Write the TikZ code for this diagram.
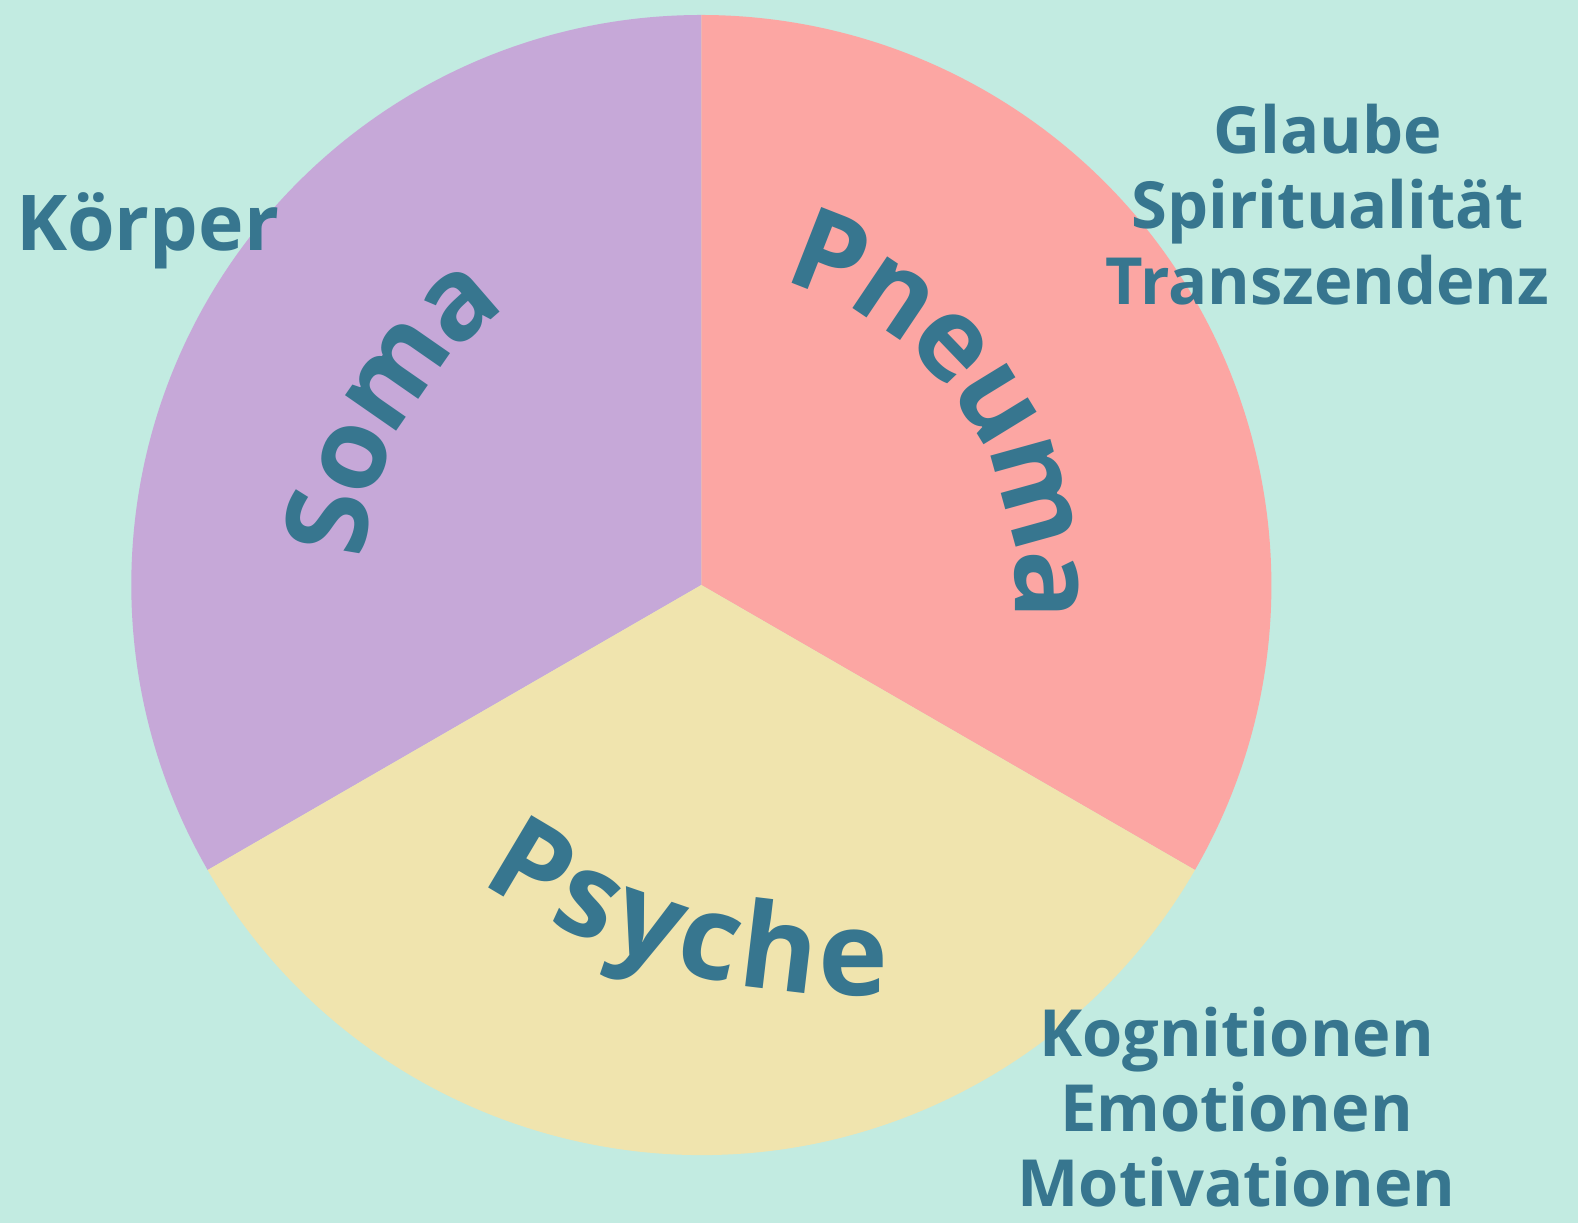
\documentclass[tikz,border=0pt]{standalone}
\usepackage{fontspec}
\setmainfont{Open Sans}
\usetikzlibrary{decorations.text}
\definecolor{bgc}{HTML}{C2EBE1}
\definecolor{somac}{HTML}{C6A8D8}
\definecolor{pneumac}{HTML}{FCA6A3}
\definecolor{psychec}{HTML}{F0E4AE}
\definecolor{txtc}{HTML}{37768F}
\newcommand\wordfont{\bfseries\fontsize{114}{114}\selectfont}
\newcommand\psyfont{\bfseries\fontsize{118}{118}\selectfont}
\tikzset{
  lbl/.style={text=txtc, inner sep=0pt, anchor=base},
  lblA/.style={lbl, font=\bfseries\fontsize{77}{77}\selectfont},
  lblB/.style={lbl, font=\bfseries\fontsize{65}{65}\selectfont},
  lblC/.style={lbl, font=\bfseries\fontsize{65}{65}\selectfont},
}
\begin{document}
\begin{tikzpicture}[x=1pt,y=1pt]
\fill[bgc] (0,0) rectangle (1578,1223);
\useasboundingbox (0,0) rectangle (1578,1223);
\coordinate (C) at (701.3,638);
\coordinate (CP) at (853,894);
% sectors
\fill[somac] (C) -- ++(90:570pt) arc[start angle=90,end angle=210,radius=570pt] -- cycle;
\fill[pneumac] (C) -- ++(-30:570pt) arc[start angle=-30,end angle=90,radius=570pt] -- cycle;
\fill[psychec] (C) -- ++(210:570pt) arc[start angle=210,end angle=330,radius=570pt] -- cycle;
% curved words
\begin{scope}[shift={(C)}]
\path[decorate,decoration={text along path,text align=center,raise=-19pt,
  text={|\color{txtc}\wordfont|Pneuma}}]
  (109.4:333pt) arc[start angle=109.4,end angle=-40.6,radius=333pt];
\path[decorate,decoration={text along path,text align=center,raise=-22pt,
  text={|\color{txtc}\wordfont|Soma}}]
  (225.4:360pt) arc[start angle=225.4,end angle=75.4,radius=360pt];
\end{scope}
\begin{scope}[shift={(CP)}]
\path[decorate,decoration={text along path,text align=center,raise=-42pt,
  text={|\color{txtc}\psyfont|Psyche}}]
  (214.5:624pt) arc[start angle=214.5,end angle=294.5,radius=624pt];
\end{scope}
% side labels
\node[lblA] (koerper) at (147.5,972) {Körper};
\node[lblB] (glaube) at (1327.5,1069.7) {Glaube};
\node[lblB] (spirit) at (1327.5,994.7) {Spiritualität};
\node[lblB] (transz) at (1327.5,918) {Transzendenz};
\node[lblC] (kogn) at (1236.5,166.3) {Kognitionen};
\node[lblC] (emot) at (1236.5,91.3) {Emotionen};
\node[lblC] (motiv) at (1236.5,16.3) {Motivationen};
\end{tikzpicture}
\end{document}
